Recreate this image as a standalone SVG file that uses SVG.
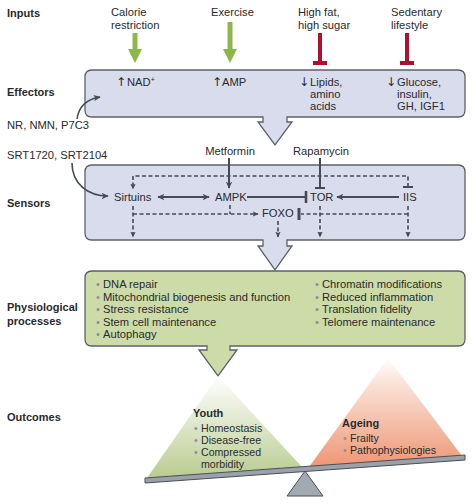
<svg xmlns="http://www.w3.org/2000/svg" width="472" height="503" viewBox="0 0 472 503">
<defs>
<style>
text{font-family:"Liberation Sans",Arial,sans-serif;font-size:11.2px;fill:#2a2a2e}
.lab{font-weight:bold;font-size:11px}
.sm{font-size:10.6px}
.arr{font-family:"DejaVu Sans",sans-serif;font-size:12px}
.box{fill:#d9dcec;stroke:#5c6168;stroke-width:1.3}
.gbox{fill:#cddba8;stroke:#5c6168;stroke-width:1.3}
.ln{stroke:#454b52;stroke-width:2;fill:none}
.cv{stroke:#454b52;stroke-width:1.6;fill:none}
.ds{stroke:#454b52;stroke-width:1.6;fill:none;stroke-dasharray:4,2.5}
.bul{fill:#8a8f94}
.gr{stroke:#8cb74a;stroke-width:5;fill:none}
.grh{fill:#8cb74a}
.rd{stroke:#b0102e;stroke-width:4;fill:none}
</style>
<marker id="ah" viewBox="0 0 10 10" refX="9" refY="5" markerWidth="8" markerHeight="7" markerUnits="userSpaceOnUse" orient="auto-start-reverse">
<path d="M0,0.5 L10,5 L0,9.5 L2.5,5 Z" fill="#454b52"/>
</marker>
<marker id="ahs" viewBox="0 0 10 10" refX="9" refY="5" markerWidth="6" markerHeight="6" markerUnits="userSpaceOnUse" orient="auto">
<path d="M0,0.5 L10,5 L0,9.5 L2.5,5 Z" fill="#454b52"/>
</marker>
<linearGradient id="gy" x1="0" y1="0" x2="0" y2="1">
<stop offset="0" stop-color="#ffffff"/>
<stop offset="1" stop-color="#b9cc90"/>
</linearGradient>
<linearGradient id="ga" x1="0" y1="0" x2="0" y2="1">
<stop offset="0" stop-color="#ffffff"/>
<stop offset="0.2" stop-color="#fbe6dc"/>
<stop offset="1" stop-color="#ee9674"/>
</linearGradient>
</defs>
<rect width="472" height="503" fill="#ffffff"/>

<g id="row-labels">
<text class="lab" x="7" y="17">Inputs</text>
<text class="lab" x="7" y="96">Effectors</text>
<text class="lab" x="7" y="207">Sensors</text>
<text class="lab" x="7" y="311">Physiological</text>
<text class="lab" x="7" y="325">processes</text>
<text class="lab" x="7" y="421">Outcomes</text>
</g>

<g id="input-calorie">
<text x="111" y="16">Calorie</text>
<text x="111" y="29">restriction</text>
</g>
<g id="input-exercise">
<text x="211" y="16">Exercise</text>
</g>
<g id="input-highfat">
<text x="298" y="16">High fat,</text>
<text x="298" y="29">high sugar</text>
</g>
<g id="input-sedentary">
<text x="391" y="16">Sedentary</text>
<text x="391" y="29">lifestyle</text>
</g>

<g id="effectors">
<path class="box" d="M92,70 H458 Q465,70 465,77 V110 Q465,117 458,117 H287 V122 H292 L275,145 L258,122 H263 V117 H92 Q85,117 85,110 V77 Q85,70 92,70 Z"/>
<text class="arr" x="116" y="86">↑</text><text x="127" y="86">NAD<tspan font-size="7" dy="-4">+</tspan></text>
<text class="arr" x="212" y="86">↑</text><text x="222" y="86">AMP</text>
<text class="arr" x="299" y="86">↓</text><text x="310" y="86">Lipids,</text>
<text x="310" y="98">amino</text>
<text x="310" y="110">acids</text>
<text class="arr" x="386" y="86">↓</text><text x="397" y="86">Glucose,</text>
<text x="397" y="98">insulin,</text>
<text x="397" y="110">GH, IGF1</text>
</g>

<g id="drug-nr">
<text x="7" y="129">NR, NMN, P7C3</text>
</g>
<g id="drug-srt">
<text x="7" y="159">SRT1720, SRT2104</text>
</g>
<g id="drug-metformin">
<text x="230" y="155" text-anchor="middle">Metformin</text>
</g>
<g id="drug-rapamycin">
<text x="321" y="155" text-anchor="middle">Rapamycin</text>
</g>

<g id="sensors">
<path class="box" d="M92,165 H458 Q465,165 465,172 V233 Q465,240 458,240 H287 V246 H292 L275,270 L258,246 H263 V240 H92 Q85,240 85,233 V172 Q85,165 92,165 Z"/>
</g>
<g id="sirtuins"><text x="114" y="201">Sirtuins</text></g>
<g id="ampk"><text x="215" y="201">AMPK</text></g>
<g id="tor"><text x="310" y="201">TOR</text></g>
<g id="iis"><text x="403" y="201">IIS</text></g>
<g id="foxo"><text x="262" y="217">FOXO</text></g>

<g id="physiological">
<path class="gbox" d="M92,271 H458 Q465,271 465,278 V339 Q465,346 458,346 H230 V350 H237 L218,376 L199,350 H207 V346 H92 Q85,346 85,339 V278 Q85,271 92,271 Z"/>
<text x="96" y="288"><tspan class="bul">•</tspan><tspan x="103">DNA repair</tspan></text>
<text x="96" y="301"><tspan class="bul">•</tspan><tspan x="103">Mitochondrial biogenesis and function</tspan></text>
<text x="96" y="313"><tspan class="bul">•</tspan><tspan x="103">Stress resistance</tspan></text>
<text x="96" y="326"><tspan class="bul">•</tspan><tspan x="103">Stem cell maintenance</tspan></text>
<text x="96" y="338"><tspan class="bul">•</tspan><tspan x="103">Autophagy</tspan></text>
<text x="315" y="288"><tspan class="bul">•</tspan><tspan x="322">Chromatin modifications</tspan></text>
<text x="315" y="301"><tspan class="bul">•</tspan><tspan x="322">Reduced inflammation</tspan></text>
<text x="315" y="313"><tspan class="bul">•</tspan><tspan x="322">Translation fidelity</tspan></text>
<text x="315" y="326"><tspan class="bul">•</tspan><tspan x="322">Telomere maintenance</tspan></text>
</g>

<g id="youth">
<polygon points="218,376 147,478 302,467" fill="url(#gy)"/>
<text class="lab" x="193" y="417">Youth</text>
<text class="sm" x="194" y="432"><tspan class="bul">•</tspan><tspan x="201">Homeostasis</tspan></text>
<text class="sm" x="194" y="444"><tspan class="bul">•</tspan><tspan x="201">Disease-free</tspan></text>
<text class="sm" x="194" y="456"><tspan class="bul">•</tspan><tspan x="201">Compressed</tspan></text>
<text class="sm" x="201" y="468">morbidity</text>
</g>
<g id="ageing">
<polygon points="388,358 309,467 462,456" fill="url(#ga)"/>
<text class="lab" x="342" y="427">Ageing</text>
<text class="sm" x="343" y="442"><tspan class="bul">•</tspan><tspan x="350">Frailty</tspan></text>
<text class="sm" x="343" y="454"><tspan class="bul">•</tspan><tspan x="350">Pathophysiologies</tspan></text>
</g>
<g id="balance">
<polygon points="145,478 465,455 465,460 145,483" fill="#9aa1a9" stroke="#4a4f55" stroke-width="1"/>
<polygon points="305,471 287,496 323,496" fill="#a3a9b0" stroke="#4a4f55" stroke-width="1"/>
</g>

<g id="connectors">
<line class="gr" x1="135" y1="33" x2="135" y2="51"/>
<polygon class="grh" points="128,49 142,49 135,63"/>
<line class="gr" x1="230" y1="22" x2="230" y2="51"/>
<polygon class="grh" points="223,49 237,49 230,63"/>
<line class="rd" x1="320" y1="33" x2="320" y2="63"/>
<line class="rd" x1="313" y1="63" x2="327" y2="63"/>
<line class="rd" x1="407" y1="33" x2="407" y2="63"/>
<line class="rd" x1="400" y1="63" x2="414" y2="63"/>

<path class="cv" d="M77,119 C79,105 88,99 100,97" marker-end="url(#ah)"/>
<path class="cv" d="M72,163 C72,184 88,196 108,196" marker-end="url(#ah)"/>

<line class="ln" x1="229" y1="158" x2="229" y2="188" marker-end="url(#ah)"/>
<line class="ln" x1="320" y1="158" x2="320" y2="188"/>
<line class="ln" x1="315" y1="188" x2="325" y2="188"/>
<line class="ln" x1="158" y1="197" x2="209" y2="197" marker-start="url(#ah)" marker-end="url(#ah)"/>
<line class="ln" x1="247" y1="197" x2="306" y2="197"/>
<line x1="306" y1="191" x2="306" y2="203" stroke="#454b52" stroke-width="2.6"/>
<line class="ln" x1="399" y1="197" x2="337" y2="197" marker-end="url(#ah)"/>

<path class="ds" d="M408,187 V176 H133 V189" marker-end="url(#ahs)"/>
<line x1="403" y1="187" x2="413" y2="187" stroke="#454b52" stroke-width="2"/>
<path class="ds" d="M133,206 V237" marker-end="url(#ahs)"/>
<path class="ds" d="M133,214 H258" marker-end="url(#ahs)"/>
<path class="ds" d="M230,205 V214"/>
<path class="ds" d="M408,214 H301"/>
<line x1="299" y1="208" x2="299" y2="220" stroke="#454b52" stroke-width="3"/>
<path class="ds" d="M278,221 V237" marker-end="url(#ahs)"/>
<path class="ds" d="M320,206 V237" marker-end="url(#ahs)"/>
<path class="ds" d="M408,206 V237" marker-end="url(#ahs)"/>
</g>
</svg>
